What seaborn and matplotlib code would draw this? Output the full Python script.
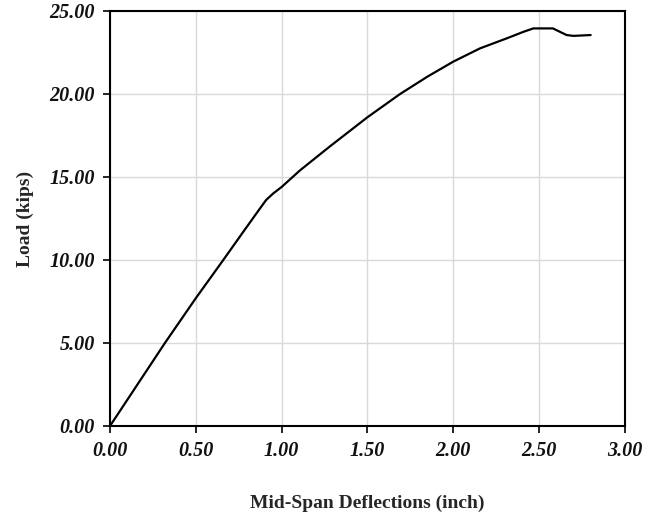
import matplotlib
matplotlib.use("Agg")
import matplotlib.pyplot as plt
import seaborn as sns
import pandas as pd

deflection = [0.00, 0.32, 0.50, 0.66, 0.78, 0.87, 0.91, 0.95, 1.00, 1.107, 1.282, 1.50,
              1.69, 1.85, 2.00, 2.156, 2.311, 2.41, 2.466, 2.58, 2.62, 2.66, 2.70, 2.80]
load = [0.00, 5.00, 7.70, 10.00, 11.75, 13.05, 13.62, 14.00, 14.40, 15.40, 16.85, 18.60,
        20.00, 21.05, 21.95, 22.75, 23.35, 23.75, 23.95, 23.95, 23.75, 23.55, 23.50, 23.55]
xticks = [0.0, 0.5, 1.0, 1.5, 2.0, 2.5, 3.0]
yticks = [0, 5, 10, 15, 20, 25]

df = pd.DataFrame({"Deflection": deflection, "Load": load})

sns.set_theme(style="white")
plt.rcParams['font.family'] = ['Liberation Serif', 'DejaVu Serif']

fig = plt.figure(figsize=(6.61, 5.13), dpi=100)
ax = fig.add_axes([0.1664, 0.1696, 0.9455 - 0.1664, 0.9786 - 0.1696])

sns.lineplot(data=df, x="Deflection", y="Load", ax=ax, color="black", linewidth=1.6,
             sort=False, estimator=None)

ax.set_xlim(0, 3.0)
ax.set_ylim(0, 25)
ax.set_xticks(xticks)
ax.set_yticks(yticks)
ax.set_xticklabels([f"{v:.2f}" for v in xticks], fontsize=14.5, fontweight="bold", fontstyle="italic")
ax.set_yticklabels([f"{v:.2f}" for v in yticks], fontsize=14.5, fontweight="bold", fontstyle="italic")
ax.grid(True, color="#d9d9d9", linewidth=1.0)
ax.set_axisbelow(True)
for s in ax.spines.values():
    s.set_color("black")
    s.set_linewidth(1.5)
ax.tick_params(axis="both", direction="out", length=5, width=1.2, color="black",
               bottom=True, left=True, pad=6, labelcolor="#111111")

ax.set_xlabel("Mid-Span Deflections (inch)", fontsize=14, fontweight="bold", labelpad=24)
ax.set_ylabel("Load (kips)", fontsize=14, fontweight="bold", labelpad=11)

fig.savefig("out.png", dpi=100, facecolor="white")
